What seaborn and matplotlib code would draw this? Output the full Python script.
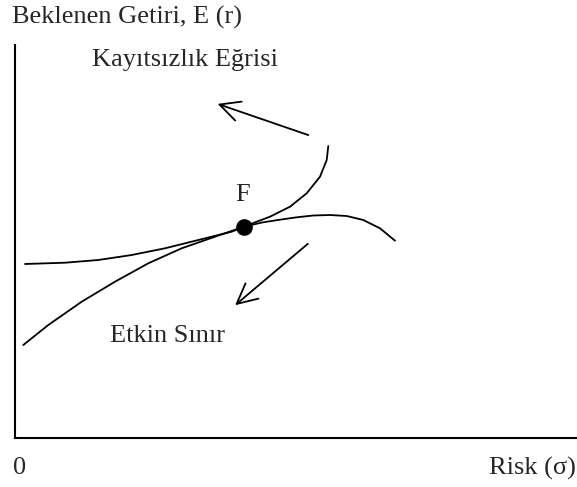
import matplotlib
matplotlib.use("Agg")
import matplotlib.pyplot as plt
import seaborn as sns
import pandas as pd

# Kayıtsızlık eğrisi (risk, getiri)
kayitsizlik_risk = [10, 50, 83.3, 116.7, 150, 183.3, 216.7, 229, 241.7, 255, 275, 291.7, 305, 311.7, 313.3]
kayitsizlik_getiri = [174, 175.3, 178, 183, 189.7, 198, 206.3, 211.3, 216.3, 221.3, 231.3, 244.7, 261.3, 278, 292]

# Etkin sınır (risk, getiri)
etkin_risk = [8.3, 33.3, 66.7, 100, 133.3, 166.7, 200, 229, 247, 265, 281.7, 298.3, 315, 331.7, 348.3, 365, 380]
etkin_getiri = [93, 113, 136.3, 156.3, 174.7, 189.7, 201.3, 211.3, 215.5, 218.3, 220.7, 222.5, 223, 222, 218, 209.7, 197.3]

# F noktası
f_risk = [229]
f_getiri = [211.3]

# Oklar: (uç, kuyruk)
ok_ust = ((200, 335), (296, 302))
ok_alt = ((218, 131), (295, 196))

sns.set_style("white")
plt.rcParams["font.family"] = ["Liberation Serif", "DejaVu Serif"]

fig = plt.figure(figsize=(5.77, 4.87), dpi=100)
ax = fig.add_axes([15 / 577, 49 / 487, 562 / 577, 393 / 487])

df_k = pd.DataFrame({"risk": kayitsizlik_risk, "getiri": kayitsizlik_getiri})
df_e = pd.DataFrame({"risk": etkin_risk, "getiri": etkin_getiri})
sns.lineplot(data=df_k, x="risk", y="getiri", sort=False, color="black", lw=1.3, ax=ax)
sns.lineplot(data=df_e, x="risk", y="getiri", sort=False, color="black", lw=1.3, ax=ax)
ax.plot(f_risk, f_getiri, "o", color="black", markersize=11, zorder=5)

for tip, tail in (ok_ust, ok_alt):
    ax.annotate("", xy=tip, xytext=tail,
                arrowprops=dict(arrowstyle="->", lw=1.3, color="black", mutation_scale=36))

ax.set_xlim(0, 562)
ax.set_ylim(0, 393)
ax.set_xticks([])
ax.set_yticks([])
ax.set_xlabel("")
ax.set_ylabel("")
for s in ["top", "right"]:
    ax.spines[s].set_visible(False)
for s in ["left", "bottom"]:
    ax.spines[s].set_color("black")
    ax.spines[s].set_linewidth(1.5)

fs = 19
ax.text(228, 243, "F", fontsize=fs, ha="center", va="center")
ax.text(77, 378, "Kayıtsızlık Eğrisi", fontsize=fs, ha="left", va="center")
ax.text(95, 102, "Etkin Sınır", fontsize=fs, ha="left", va="center")
fig.text(12 / 577, 1 - 17 / 487, "Beklenen Getiri, E (r)", fontsize=fs, ha="left", va="center")
fig.text(13 / 577, 1 - 468 / 487, "0", fontsize=fs, ha="left", va="center")
fig.text(576 / 577, 1 - 468 / 487, "Risk (σ)", fontsize=fs, ha="right", va="center")

fig.savefig("out.png", dpi=100)
